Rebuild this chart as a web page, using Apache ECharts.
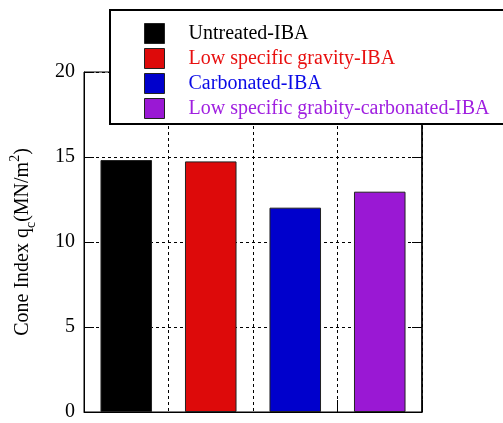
<!DOCTYPE html>
<html><head><meta charset="utf-8">
<script src="https://cdn.jsdelivr.net/npm/echarts@6/dist/echarts.min.js"></script>
<style>html,body{margin:0;padding:0;background:#fff}#c{width:503px;height:423px}</style>
</head><body><div id="c"></div>
<script>
const categories = ['Untreated-IBA', 'Low specific gravity-IBA', 'Carbonated-IBA', 'Low specific grabity-carbonated-IBA'];
const values = [14.82, 14.74, 12.02, 12.96];
const yTicks = [0, 5, 10, 15, 20];
const barColors = ['#000000', '#dd0a0a', '#0000cc', '#9a18d4'];
const textColors = ['#000000', '#e81010', '#0a0ae6', '#a020e0'];

const font = 'Liberation Serif';
const series = categories.map((name, i) => ({
  name: name,
  type: 'bar',
  barWidth: '61%',
  barGap: '-100%',
  data: categories.map((c, j) => (j === i ? values[i] : '-')),
  itemStyle: { color: barColors[i], borderColor: '#222', borderWidth: 1 },
  z: 2
}));

const chart = echarts.init(document.getElementById('c'), null, { renderer: 'canvas' });
chart.setOption({
  animation: false,
  backgroundColor: '#fff',
  grid: { left: 82, right: 81, top: 72, bottom: 11, show: true, borderColor: '#000', borderWidth: 1 },
  legend: {
    orient: 'vertical', left: 144, top: 23, padding: 0, itemGap: 4,
    itemWidth: 20, itemHeight: 20, icon: 'rect', z: 10,
    itemStyle: { borderColor: '#222', borderWidth: 1 },
    textStyle: { fontFamily: font, fontSize: 20, lineHeight: 20, padding: [0, 0, 0, 19] },
    data: categories.map((n, i) => ({ name: n, textStyle: { color: textColors[i] } }))
  },
  graphic: [{
    type: 'rect', z: 5, zlevel: 0,
    shape: { x: 110, y: 10, width: 420, height: 114 },
    style: { fill: '#fff', stroke: '#000', lineWidth: 2 }
  }],
  xAxis: {
    type: 'category', data: categories,
    axisLine: { lineStyle: { color: '#000', width: 1 } },
    axisTick: { show: true, inside: true, length: 12, lineStyle: { color: '#000' } },
    axisLabel: { show: false },
    splitLine: { show: true, interval: 0, lineStyle: { color: '#000', type: [3, 3], width: 1 } }
  },
  yAxis: [{
    type: 'value', min: 0, max: 20, interval: 5,
    name: '{a|Cone Index q}{sub|c}{a|(MN/m}{sup|2}{a|)}',
    nameLocation: 'middle', nameGap: 46, nameRotate: 90,
    nameTextStyle: {
      rich: {
        a: { fontFamily: font, fontSize: 20, color: '#000', lineHeight: 30 },
        sub: { fontFamily: font, fontSize: 14, color: '#000', lineHeight: 14, verticalAlign: 'bottom' },
        sup: { fontFamily: font, fontSize: 14, color: '#000', lineHeight: 14, verticalAlign: 'top' }
      }
    },
    axisLine: { show: true, lineStyle: { color: '#000' } },
    axisTick: { show: true, inside: true, length: 10, lineStyle: { color: '#000' } },
    axisLabel: { fontFamily: font, fontSize: 20, color: '#000', margin: 9,
      formatter: v => (yTicks.indexOf(v) >= 0 ? String(v) : '') },
    splitLine: { show: true, lineStyle: { color: '#000', type: [3, 3], width: 1 } }
  }, {
    type: 'value', min: 0, max: 20, interval: 5, position: 'right',
    axisLine: { show: true, lineStyle: { color: '#000', width: 1.5 } },
    axisTick: { show: true, inside: true, length: 10, lineStyle: { color: '#000' } },
    axisLabel: { show: false },
    splitLine: { show: false }
  }],
  series: series
});
</script></body></html>
